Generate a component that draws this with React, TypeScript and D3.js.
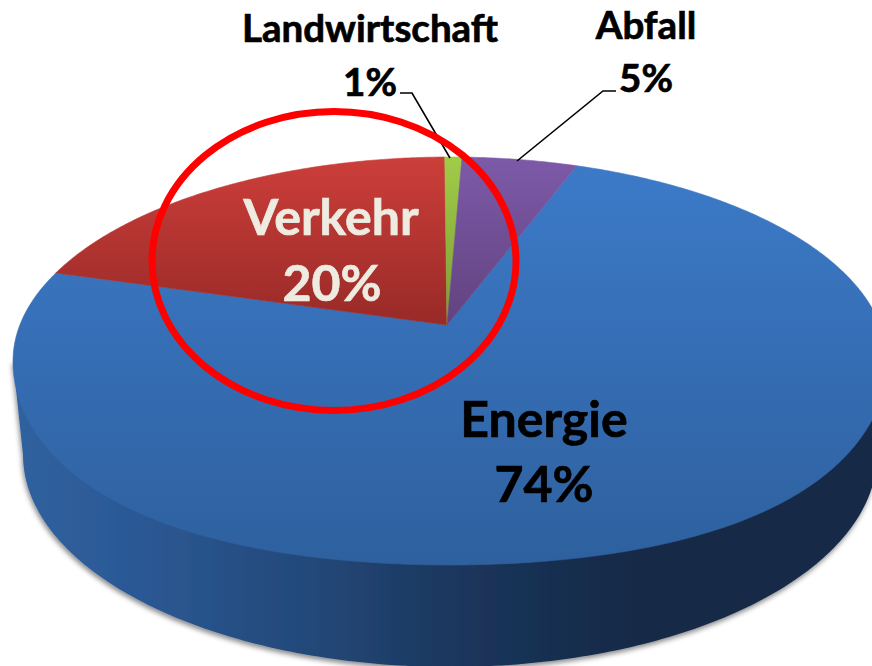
import React from "react";
import * as d3 from "d3";

const categories = ["Energie", "Verkehr", "Landwirtschaft", "Abfall"];
const values = [73.8, 20.4, 0.75, 5.05];
const gradientStops = [
  ["#3c7ac8", "#2e609e"],
  ["#cc3e3a", "#982a27"],
  ["#a0cc48", "#7c9c36"],
  ["#7d5aa8", "#62427f"],
];
const gradientSpans = [
  [165, 565],
  [158, 325],
  [158, 325],
  [158, 325],
];
const sideStops: [number, string][] = [
  [0, "#30629f"],
  [0.15, "#2b5894"],
  [0.35, "#234878"],
  [0.55, "#1a3358"],
  [0.72, "#152a47"],
  [1, "#172b46"],
];

const W = 872;
const H = 666;
const top = { cx: 450, cy: 361, rx: 437, ry: 204 };
const base = { cx: 450, cy: 455, rx: 427, ry: 212 };
const apex = { x: 447, y: 325 };

// Perspective mapping: unit disk -> disk with centre moved to the apex position
const wx = (apex.x - top.cx) / top.rx;
const wy = (apex.y - top.cy) / top.ry;
const w2 = wx * wx + wy * wy;
function project(theta: number): [number, number] {
  const px = Math.sin(theta);
  const py = -Math.cos(theta);
  const dot = px * wx + py * wy;
  const g = Math.sqrt(1 - w2);
  const k = w2 > 0 ? (dot * (1 - g)) / w2 : 0;
  const den = 1 + dot;
  const u = (g * px + k * wx + wx) / den;
  const v = (g * py + k * wy + wy) / den;
  const bulge = v > 0 ? 24 * v * u * u : 0;
  return [top.cx + top.rx * u, top.cy + top.ry * v + bulge];
}

const pieGen = d3
  .pie<number>()
  .sort(null)
  .startAngle((20.5 * Math.PI) / 180)
  .endAngle((380.5 * Math.PI) / 180);
const arcs = pieGen(values);
const lineGen = d3.line<[number, number]>();
const pct = (v: number) => `${Math.round(v)}%`;

function slicePath(a0: number, a1: number) {
  const n = Math.max(4, Math.ceil((a1 - a0) / 0.01));
  const pts: [number, number][] = [[apex.x, apex.y]];
  d3.range(n + 1).forEach((i) => pts.push(project(a0 + ((a1 - a0) * i) / n)));
  return lineGen(pts) + "Z";
}

function sidePath() {
  const left: [number, number] = [top.cx - top.rx, top.cy];
  const right: [number, number] = [top.cx + top.rx, top.cy];
  const bottom = d3.range(0, 181).map((d): [number, number] => {
    const t = (d * Math.PI) / 180;
    return [base.cx + base.rx * Math.cos(t), base.cy + base.ry * Math.sin(t)];
  });
  return lineGen([left, right, ...bottom]) + "Z";
}

const fontFamily = "Lato, Carlito, sans-serif";
const smallSize = 38.5;
const bigSize = 50;

export default function App() {
  return (
    <svg
      width={W}
      height={H}
      viewBox={`0 0 ${W} ${H}`}
      style={{ position: "absolute", left: 0, top: 0, background: "#fff" }}
      fontFamily={fontFamily}
      fontWeight={700}
    >
      <defs>
        <linearGradient id="side" gradientUnits="userSpaceOnUse" x1={13} x2={872} y1={0} y2={0}>
          {sideStops.map(([o, c]) => (
            <stop key={o} offset={o} stopColor={c} />
          ))}
        </linearGradient>
        {gradientStops.map((s, i) => (
          <linearGradient
            key={i}
            id={`g${i}`}
            gradientUnits="userSpaceOnUse"
            x1={0}
            x2={0}
            y1={gradientSpans[i][0]}
            y2={gradientSpans[i][1]}
          >
            <stop offset={0} stopColor={s[0]} />
            <stop offset={1} stopColor={s[1]} />
          </linearGradient>
        ))}
        <filter id="shadow" x="-5%" y="-5%" width="110%" height="115%">
          <feDropShadow dx={-1} dy={3} stdDeviation={2.5} floodColor="#000" floodOpacity={0.45} />
        </filter>
      </defs>

      <path d={sidePath()} fill="url(#side)" filter="url(#shadow)" />
      {arcs.map((a, i) => (
        <path
          key={categories[i]}
          d={slicePath(a.startAngle, a.endAngle)}
          fill={`url(#g${i})`}
          stroke={`url(#g${i})`}
          strokeWidth={0.6}
        />
      ))}

      <polyline points="400,93 412,93 450,158" fill="none" stroke="#000" strokeWidth={1.6} />
      <polyline points="616,91 603,91 517,161" fill="none" stroke="#000" strokeWidth={1.6} />

      <g fill="#000" stroke="#000" strokeWidth={0.7} textAnchor="middle">
        <text x={370} y={42} fontSize={smallSize}>{categories[2]}</text>
        <text x={370} y={96} fontSize={smallSize}>{pct(values[2])}</text>
        <text x={646} y={39} fontSize={smallSize}>{categories[3]}</text>
        <text x={646} y={92} fontSize={smallSize}>{pct(values[3])}</text>
        <text x={544} y={437} fontSize={bigSize}>{categories[0]}</text>
        <text x={544} y={502} fontSize={bigSize}>{pct(values[0])}</text>
      </g>
      <g fill="#eeebe0" stroke="#eeebe0" strokeWidth={0.7} textAnchor="middle">
        <text x={331} y={235} fontSize={bigSize}>{categories[1]}</text>
        <text x={332} y={301} fontSize={bigSize}>{pct(values[1])}</text>
      </g>

      <ellipse cx={334} cy={261} rx={182} ry={149.5} fill="none" stroke="#ff0000" strokeWidth={7} />
    </svg>
  );
}
